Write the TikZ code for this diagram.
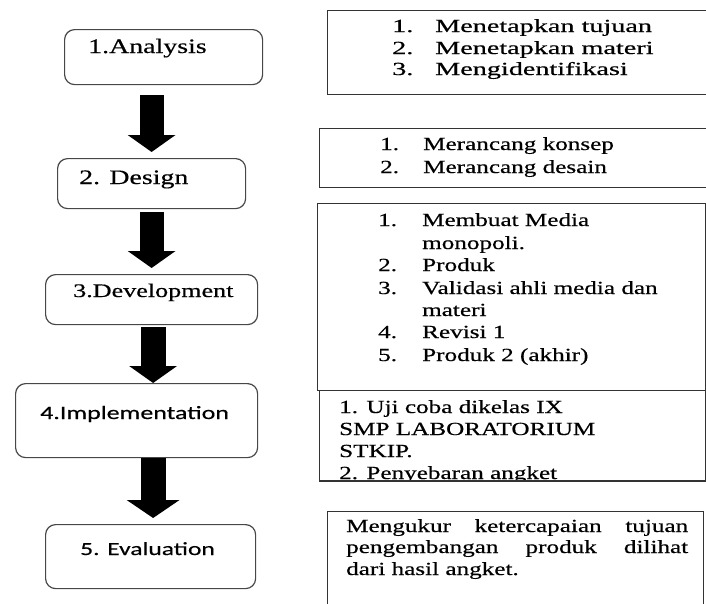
\documentclass[tikz,border=0pt]{standalone}
\usepackage{fontspec}
\usetikzlibrary{arrows.meta,calc}
\newfontfamily\srfont{Liberation Serif}[FakeStretch=1.36,FakeBold=0.5]
\newfontfamily\safont{Carlito}[FakeStretch=1.38,FakeBold=0.4]
\tikzset{
  stage/.style={draw=black!72, line width=1.2pt, rounded corners=10pt, inner sep=0pt, anchor=north west},
  info/.style={draw=black!80, line width=1.3pt, inner sep=0pt, anchor=north west},
  txt/.style={inner sep=0pt, anchor=base west, text=black},
  rtxt/.style={txt, font=\srfont\fontsize{18.5}{22}\selectfont},
  wtxt/.style={txt, font=\srfont\fontsize{18.5}{22}\selectfont, xscale=1.12},
  flow/.style={line width=24pt, draw=black, -{Triangle[length=17pt,width=47pt]}},
}
\begin{document}
\begin{tikzpicture}[x=1pt,y=-1pt]
\useasboundingbox (0,0) rectangle (706,603);
\clip (0,0) rectangle (706,603);

% stage boxes
\node[stage, minimum width=198pt, minimum height=55pt] (s1) at (64,29) {};
\node[stage, minimum width=188pt, minimum height=50pt] (s2) at (57,158) {};
\node[stage, minimum width=212pt, minimum height=50pt] (s3) at (45,274) {};
\node[stage, minimum width=242pt, minimum height=74pt] (s4) at (15,383) {};
\node[stage, minimum width=210pt, minimum height=64pt] (s5) at (45,524) {};

\node[txt, font=\srfont\fontsize{20.5}{24}\selectfont] (t1) at (88,53) {1.Analysis};
\node[txt, font=\srfont\fontsize{20.5}{24}\selectfont] (t2) at (79,184) {2. Design};
\node[txt, font=\srfont\fontsize{19.2}{23}\selectfont] (t3) at (73,297) {3.Development};
\node[txt, font=\safont\fontsize{18.8}{22}\selectfont] (t4) at (40,419) {4.Implementation};
\node[txt, font=\safont\fontsize{18.5}{22}\selectfont] (t5) at (80,555) {5. Evaluation};

% arrows
\draw[flow] ($(s1.south)+(-12,10)$) -- ($(s2.north)+(0,-6)$);
\draw[flow] ($(s2.south)+(0,3)$) -- ($(s3.north)+(0,-6)$);
\draw[flow, line width=25pt] ($(s3.south)+(1.5,2)$) -- ($(s4.north)+(16.5,0)$);
\draw[flow, line width=25pt, -{Triangle[length=18pt,width=52pt]}] ($(s4.south)+(16.5,0)$) -- ($(s5.north)+(2.5,-6)$);

% information boxes
\node[info, minimum width=400pt, minimum height=84pt] (r1) at (327,10) {};
\node[info, minimum width=400pt, minimum height=59pt] (r2) at (319,128) {};
\node[info, minimum width=388pt, minimum height=187pt] (r3) at (317,203) {};
\node[info, minimum width=386pt, minimum height=90pt] (r4) at (319,390) {};
\node[info, minimum width=376pt, minimum height=120pt] (r5) at (327,511) {};

% box 1 text
\node[wtxt] (r1n1) at (392,32) {1.};
\node[wtxt] (r1a) at (435,32) {Menetapkan tujuan};
\node[wtxt] (r1n2) at (392,54) {2.};
\node[wtxt] (r1b) at (435,54) {Menetapkan materi};
\node[wtxt] (r1n3) at (392,75) {3.};
\node[wtxt] (r1c) at (435,75) {Mengidentifikasi};

% box 2 text
\node[rtxt] (r2n1) at (380,150) {1.};
\node[rtxt] (r2a) at (423,150) {Merancang konsep};
\node[rtxt] (r2n2) at (380,173) {2.};
\node[rtxt] (r2b) at (423,173) {Merancang desain};

% box 3 text
\node[rtxt] (r3n1) at (378,226) {1.};
\node[rtxt] (r3a) at (422,226) {Membuat Media};
\node[rtxt] (r3a2) at (422,249) {monopoli.};
\node[rtxt] (r3n2) at (378,271) {2.};
\node[rtxt] (r3b) at (422,271) {Produk};
\node[rtxt] (r3n3) at (378,294) {3.};
\node[rtxt] (r3c) at (422,294) {Validasi ahli media dan};
\node[rtxt] (r3c2) at (422,316) {materi};
\node[rtxt] (r3n4) at (378,338) {4.};
\node[rtxt] (r3d) at (422,338) {Revisi 1};
\node[rtxt] (r3n5) at (378,361) {5.};
\node[rtxt] (r3e) at (422,361) {Produk 2 (akhir)};

% box 4 text (clipped by its frame)
\begin{scope}
\clip (319,390) rectangle (705,479.3);
\node[rtxt] (r4a) at (339,413) {1. Uji coba dikelas IX};
\node[rtxt] (r4b) at (339,435) {SMP LABORATORIUM};
\node[rtxt] (r4c) at (339,457) {STKIP.};
\node[rtxt] (r4d) at (339,479) {2. Penyebaran angket};
\end{scope}
\draw[draw=black!80, line width=1.3pt] (r4.south west) -- (r4.south east);

% box 5 text
\node[rtxt] (r5a) at (346,532) {\makebox[342pt][s]{Mengukur ketercapaian tujuan}};
\node[rtxt] (r5b) at (346,553) {\makebox[342pt][s]{pengembangan produk dilihat}};
\node[rtxt] (r5c) at (346,575) {dari hasil angket.};
\end{tikzpicture}
\end{document}
